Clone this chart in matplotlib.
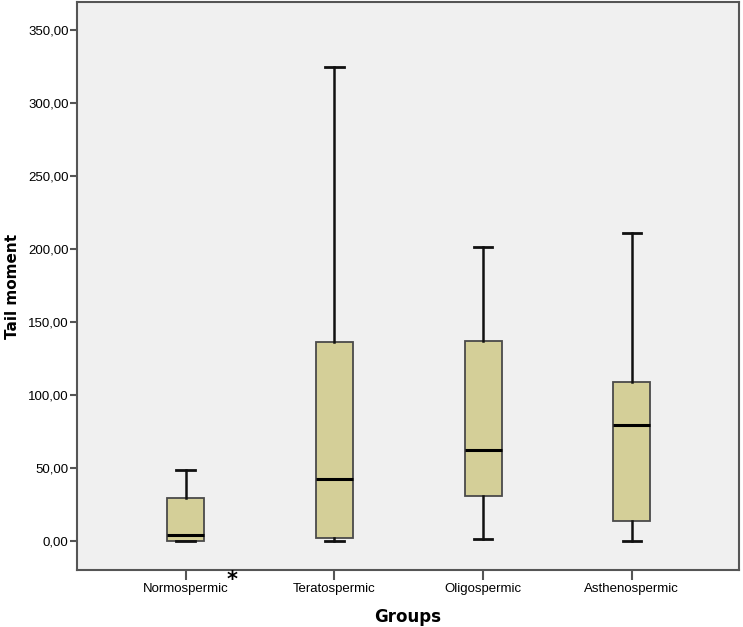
import matplotlib
matplotlib.use("Agg")
import matplotlib.pyplot as plt

# values (Tail moment per group)
groups = ["Normospermic", "Teratospermic", "Oligospermic", "Asthenospermic"]
whislo = [0.0, 0.0, 1.4, 0.0]
q1 = [0.3, 2.3, 31.0, 13.5]
med = [4.2, 42.7, 62.1, 79.5]
q3 = [29.5, 136.5, 137.2, 108.9]
whishi = [48.6, 324.9, 201.2, 210.8]
yticks = [0, 50, 100, 150, 200, 250, 300, 350]

box_color = "#d4cf98"
edge = "#4a4a4a"

fig = plt.figure(figsize=(7.43, 6.27), dpi=100)
ax = fig.add_axes([0.1036, 0.0909, 0.891, 0.9059])
ax.set_facecolor("#f0f0f0")

stats = []
for i, g in enumerate(groups):
    stats.append(dict(label=g, whislo=whislo[i], q1=q1[i], med=med[i],
                      q3=q3[i], whishi=whishi[i], fliers=[]))

pos = [1, 2, 3, 4]
ax.bxp(stats, positions=pos, widths=0.25, capwidths=0.125, patch_artist=True,
       showfliers=False,
       boxprops=dict(facecolor=box_color, edgecolor=edge, linewidth=1.3),
       medianprops=dict(color="black", linewidth=2.2),
       whiskerprops=dict(color="#111111", linewidth=1.8),
       capprops=dict(color="#111111", linewidth=2.0))

ax.set_xlim(0.27, 4.72)
ax.set_ylim(-19.9, 369.2)
ax.set_yticks(yticks)
ax.set_yticklabels([f"{v:.2f}".replace(".", ",") for v in yticks],
                   family="Liberation Sans")
ax.set_xticks(pos)
ax.set_xticklabels(groups, family="Liberation Sans")

# bold asterisk after the first group name
fig.text(232 / 743, 1 - 580 / 627, "*", fontsize=15, fontweight="bold",
         ha="center", va="center")

for s in ax.spines.values():
    s.set_color("#555555")
    s.set_linewidth(1.5)
ax.tick_params(axis="y", length=5, width=1.5, color="#555555", labelsize=9.5, pad=1)
ax.tick_params(axis="x", length=7, width=1.5, color="#555555", labelsize=9.5, pad=2)

ax.set_xlabel("Groups", fontsize=12, fontweight="bold", labelpad=10)
ax.set_ylabel("Tail moment", fontsize=11, fontweight="bold", labelpad=6)

fig.savefig("out.png", dpi=100)
